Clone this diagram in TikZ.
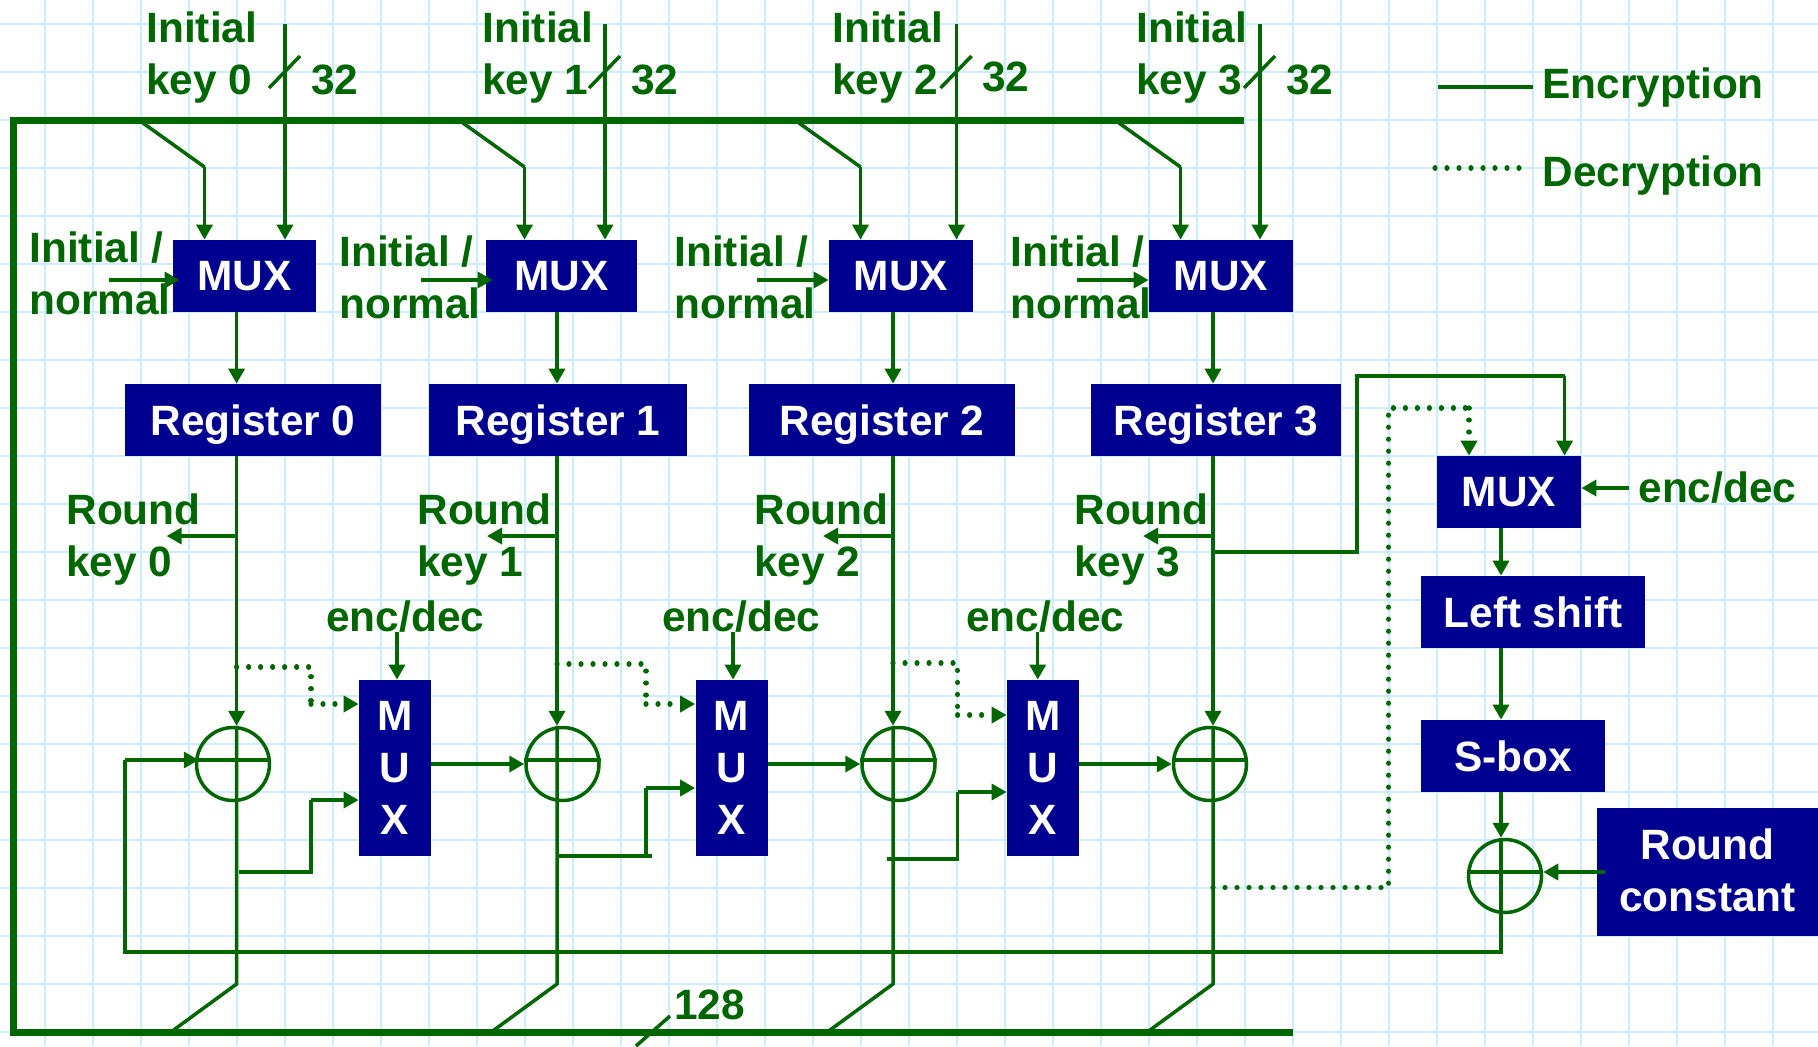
\documentclass[tikz,border=0pt]{standalone}
\usepackage{fontspec}
\setmainfont{Liberation Sans}
\usetikzlibrary{arrows.meta,calc}

\definecolor{wiregreen}{HTML}{006600}
\definecolor{boxblue}{HTML}{000090}
\definecolor{gridblue}{HTML}{CCECFF}

\tikzset{
  wire/.style={draw=wiregreen,line width=1.75pt},
  arr/.style={wire,-{Triangle[length=7.5pt,width=8pt]}},
  bus/.style={draw=wiregreen,line width=3.5pt},
  dots/.style={draw=wiregreen,line width=2.6pt,line cap=round,dash pattern=on 0.01pt off 5.99pt},
  dotarr/.style={dots,-{Triangle[length=7.5pt,width=8pt]}},
  blk/.style={fill=boxblue,text=white,inner sep=0pt,align=center,font=\bfseries\fontsize{21.2pt}{26pt}\selectfont},
  lbl/.style={text=wiregreen,inner sep=0pt,anchor=base west,align=left,font=\bfseries\fontsize{21.2pt}{26pt}\selectfont},
  xorgate/.style={circle,draw=wiregreen,line width=1.75pt,minimum size=36.5pt,inner sep=0pt},
}

\begin{document}
\begin{tikzpicture}[x=0.5pt,y=-0.5pt]
  \useasboundingbox (0,0) rectangle (1818,1046);
  \fill[white] (0,0) rectangle (1818,1046);
  \foreach \gx in {45,93,...,1773} \draw[gridblue,line width=1.25pt] (\gx,0) -- (\gx,1046);
  \foreach \gy in {24,72,...,1032} \draw[gridblue,line width=1.25pt] (0,\gy) -- (1818,\gy);

  % key columns
  \foreach \n/\mx/\mw/\rx/\rw/\wx/\ix/\dx/\sx/\cx/\ov in {
      0/244.5/143/253/256/236.6/285/143/109/233/3.5,
      1/561.5/151/558/258/557/605/463/421/562.5/3.5,
      2/901/144/882/265.5/893/956.5/799/757/898.5/0,
      3/1221/144/1216/250/1213/1260/1119/1077/1210/0} {
    \node[blk,minimum width=\mw*0.5pt,minimum height=36pt] (mux\n) at (\mx,276) {MUX};
    \node[blk,minimum width=\rw*0.5pt,minimum height=36pt,text height=15pt,text depth=0pt] (reg\n) at (\rx,420) {Register \n};
    \node[xorgate] (xor\n) at (\cx,764) {};
    \coordinate (key\n) at (\ix,24);
    \coordinate (tap\n) at (\dx,123);
    \coordinate (bend\n) at (\dx+61.5,167);
    \coordinate (sel\n) at (\sx,280);
    \coordinate (down\n) at (\wx,312);
    \coordinate (low\n) at (\wx,984);
    \coordinate (out\n) at (\wx-63,1030);
    \coordinate (rkey\n) at (\wx,536);
    \draw[arr] (key\n) -- (key\n |- mux\n.north);
    \draw[wire] ($(key\n)+(-16,64)$) -- ($(key\n)+(15,32)$);
    \draw[wire] (tap\n) -- (bend\n);
    \draw[arr] (bend\n) -- (bend\n |- mux\n.north);
    \draw[arr,shorten >=-\ov pt] (sel\n) -- (sel\n -| mux\n.west);
    \draw[arr] (down\n) -- (down\n |- reg\n.north);
    \draw[arr] (down\n |- reg\n.south) -- (down\n |- xor\n.north);
    \draw[wire] (down\n |- xor\n.north) -- (low\n) -- (out\n);
    \draw[arr] (rkey\n) -- ++(-70,0);
    \draw[wire] ($(xor\n.west)+(0,-4)$) -- ($(xor\n.east)+(0,-4)$);
  }

  % labels of the key columns
  \foreach \n/\tx/\vx/\vy/\nx/\ny/\rx in {
      0/146/311/94/29/314/66,
      1/482/631/94/339/318/417,
      2/832/982/91/674/318/754,
      3/1136/1286/94/1010/318/1074} {
    \node[lbl] (init\n) at (\tx,94) {Initial\\key \n};
    \node[lbl] (width\n) at (\vx,\vy) {32};
    \node[lbl] (mode\n) at (\nx,\ny) {Initial /\\normal};
    \node[lbl] (rlab\n) at (\rx,576) {Round\\key \n};
  }

  % middle multiplexers
  \foreach \n/\m/\x/\lx/\ax/\dy/\dx/\ey/\sx/\sy/\by in {
      0/1/395/326/397/667/311/704/239/872/800,
      1/2/731.5/662/733/664/646/704/557/856/788,
      2/3/1043/966/1037.7/663/957.6/715/887/859/792} {
    \node[blk,minimum width=36pt,minimum height=88pt] (sel\n m) at (\x,768) {M\\U\\X};
    \node[lbl] (ed\n) at (\lx,631) {enc/dec};
    \coordinate (sc\n) at (\ax,632);
    \coordinate (dtap\n) at (down\n |- 0,\dy);
    \coordinate (dbend\n) at (\dx,\dy);
    \coordinate (dend\n) at (\dx,\ey);
    \coordinate (stap\n) at (\sx,\sy);
    \coordinate (sbend\n) at (\dx,\sy);
    \coordinate (send\n) at (\dx,\by);
    \draw[arr] (sc\n) -- (sc\n |- sel\n m.north);
    \draw[arr] (sel\n m.east |- xor\m.west) -- (xor\m.west);
    \draw[dots] (dtap\n) -- (dbend\n) -- (dend\n);
    \draw[dotarr] (dend\n) -- (dend\n -| sel\n m.west);
    \draw[wire] (stap\n) -- (sbend\n) -- (send\n);
    \draw[arr] (send\n) -- (send\n -| sel\n m.west);
  }
  \coordinate (stub) at (652,856);
  \draw[wire] (sbend1) -- (stub);

  % outer bus
  \coordinate (busa) at (1244,120);
  \coordinate (busb) at (13,120);
  \coordinate (busc) at (13,1032);
  \coordinate (busd) at (1293,1032);
  \draw[bus] (busa) -- (busb) -- (busc) -- (busd);
  \node[lbl] (busw) at (674,1019) {128};
  \coordinate (cuta) at (670,1016);
  \coordinate (cutb) at (636,1046);
  \draw[wire] (cuta) -- (cutb);

  % key expansion path
  \node[blk,minimum width=72pt,minimum height=36pt] (rmux) at (1509,492) {MUX};
  \node[blk,minimum width=112pt,minimum height=36pt] (shift) at (1533,612) {Left shift};
  \node[blk,minimum width=92pt,minimum height=36pt] (sbox) at (1513,756) {S-box};
  \node[blk,minimum width=110.5pt,minimum height=64pt,text depth=2.3pt] (rcon) at (1707.5,872) {Round\\constant};
  \node[xorgate] (xorr) at (1505,876) {};
  \node[lbl] (red) at (1638,502) {enc/dec};
  \coordinate (rx) at (1501,528);
  \draw[arr] (rx) -- (rx |- shift.north);
  \draw[arr] (rx |- shift.south) -- (rx |- sbox.north);
  \draw[arr] (rx |- sbox.south) -- (rx |- xorr.north);
  \draw[wire] (rx |- xorr.north) -- (rx |- xorr.south);
  \draw[wire] ($(xorr.west)+(0,-4)$) -- ($(xorr.east)+(0,-4)$);
  \coordinate (rcin) at (1605,872);
  \draw[arr] (rcin) -- (rcin -| xorr.east);
  \coordinate (edin) at (1629,488);
  \draw[arr] (edin) -- (edin -| rmux.east);

  % feedback from the round constant adder
  \coordinate (fbr) at (1501,952);
  \coordinate (fbl) at (125,952);
  \coordinate (fbt) at (125,760);
  \draw[wire] (rx |- xorr.south) -- (fbr) -- (fbl) -- (fbt);
  \draw[arr] (fbt) -- ($(xor0.west)+(4,-4)$);

  % from register 3 to the multiplexer
  \coordinate (enca) at (1213,552);
  \coordinate (encb) at (1357,552);
  \coordinate (encc) at (1357,376);
  \coordinate (encd) at (1564.6,376);
  \draw[wire] (enca) -- (encb) -- (encc) -- (encd);
  \draw[arr] (encd) -- (encd |- rmux.north);
  \coordinate (deca) at (1213,887.6);
  \coordinate (decb) at (1388.6,887.6);
  \coordinate (decc) at (1388.6,408);
  \coordinate (decd) at (1469,408);
  \draw[dots] (deca) -- (decb) -- (decc) -- (decd);
  \draw[dotarr] (decd) -- (decd |- rmux.north);

  % legend
  \coordinate (lega) at (1438,87);
  \coordinate (legb) at (1533,87);
  \coordinate (legc) at (1435,168);
  \coordinate (legd) at (1525,168);
  \draw[wire] (lega) -- (legb);
  \draw[dots] (legc) -- (legd);
  \node[lbl] (lenc) at (1542,98) {Encryption};
  \node[lbl] (ldec) at (1542,186) {Decryption};
\end{tikzpicture}
\end{document}
